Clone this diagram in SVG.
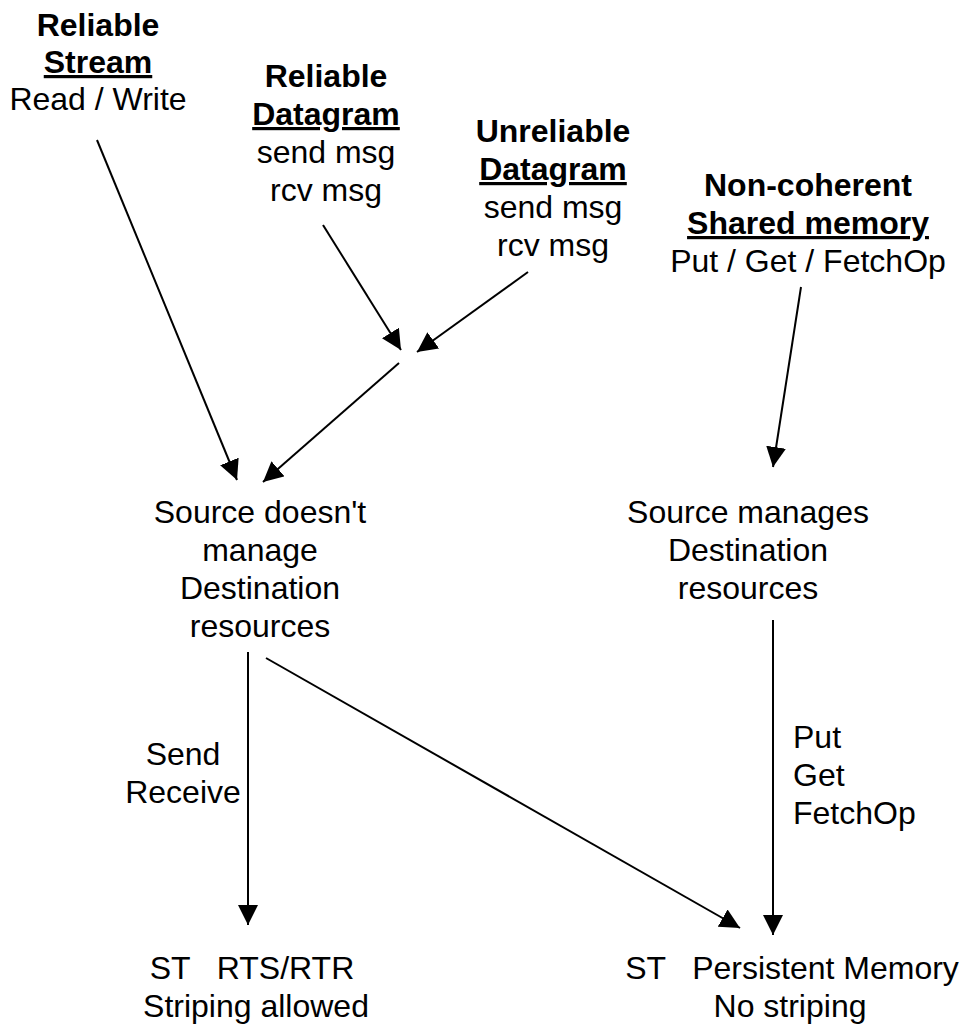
<svg xmlns="http://www.w3.org/2000/svg" width="963" height="1024" viewBox="0 0 963 1024">
<style>
text{font-family:"Liberation Sans",Arial,sans-serif;font-size:32px;fill:#000;text-anchor:middle}
.b{font-weight:bold}
.u{text-decoration:underline}
.l{text-anchor:start}
.c{stroke:#000;stroke-width:2;fill:none;marker-end:url(#ah)}
</style>
<defs>
<marker id="ah" markerUnits="userSpaceOnUse" markerWidth="22" markerHeight="20" refX="20" refY="10" orient="auto">
<path d="M0,0 L20,10 L0,20 Z" fill="#000"/>
</marker>
</defs>
<rect width="963" height="1024" fill="#fff"/>
<g id="connectors">
<line class="c" x1="97" y1="140" x2="237" y2="480"/>
<line class="c" x1="323" y1="225" x2="401" y2="350"/>
<line class="c" x1="528" y1="272" x2="417" y2="352"/>
<line class="c" x1="399" y1="363" x2="263" y2="482"/>
<line class="c" x1="801" y1="287" x2="773" y2="467"/>
<line class="c" x1="248" y1="652" x2="248" y2="925"/>
<line class="c" x1="266" y1="658" x2="740" y2="928"/>
<line class="c" x1="773" y1="620" x2="773" y2="935"/>
</g>
<g id="reliable-stream">
<text x="98" y="36" class="b">Reliable</text>
<text x="98" y="73" class="b u">Stream</text>
<text x="98" y="110">Read / Write</text>
</g>
<g id="reliable-datagram">
<text x="326" y="87" class="b">Reliable</text>
<text x="326" y="125" class="b u">Datagram</text>
<text x="326" y="163">send msg</text>
<text x="326" y="201">rcv msg</text>
</g>
<g id="unreliable-datagram">
<text x="553" y="142" class="b">Unreliable</text>
<text x="553" y="180" class="b u">Datagram</text>
<text x="553" y="218">send msg</text>
<text x="553" y="256">rcv msg</text>
</g>
<g id="noncoherent-shared-memory">
<text x="808" y="196" class="b">Non-coherent</text>
<text x="808" y="234" class="b u">Shared memory</text>
<text x="808" y="272">Put / Get / FetchOp</text>
</g>
<g id="source-doesnt-manage">
<text x="260" y="523">Source doesn't</text>
<text x="260" y="561">manage</text>
<text x="260" y="599">Destination</text>
<text x="260" y="637">resources</text>
</g>
<g id="source-manages">
<text x="748" y="523">Source manages</text>
<text x="748" y="561">Destination</text>
<text x="748" y="599">resources</text>
</g>
<g id="label-send-receive">
<text x="183" y="765">Send</text>
<text x="183" y="803">Receive</text>
</g>
<g id="label-put-get">
<text x="793" y="748" class="l">Put</text>
<text x="793" y="786" class="l">Get</text>
<text x="793" y="824" class="l">FetchOp</text>
</g>
<g id="st-rts-rtr">
<text x="252" y="979" xml:space="preserve">ST   RTS/RTR</text>
<text x="256" y="1017">Striping allowed</text>
</g>
<g id="st-persistent">
<text x="792" y="979" xml:space="preserve">ST   Persistent Memory</text>
<text x="790" y="1017">No striping</text>
</g>
</svg>
